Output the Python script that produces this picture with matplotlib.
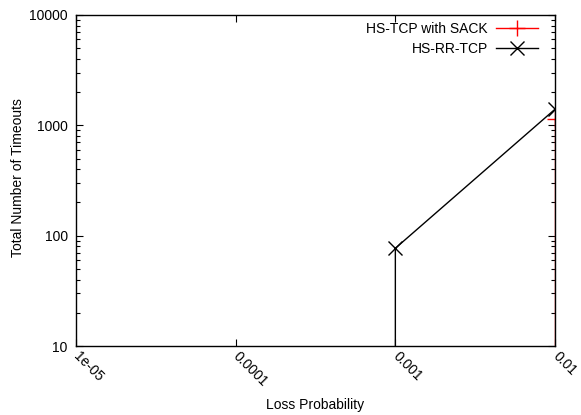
import matplotlib
matplotlib.use("Agg")
import matplotlib.pyplot as plt
from matplotlib.ticker import LogLocator, FixedLocator, NullLocator
import matplotlib.transforms as mtransforms

plt.rcParams['font.family'] = ['Liberation Sans', 'DejaVu Sans']

# Data (values below the axis floor are clipped, giving the vertical drop lines)
sack_x = [0.01, 0.01]
sack_y = [1, 1150]
rr_x = [0.001, 0.001, 0.01]
rr_y = [1, 77, 1400]

xticks = [1e-5, 1e-4, 1e-3, 1e-2]
xtick_labels = ["1e-05", "0.0001", "0.001", "0.01"]
yticks = [10, 100, 1000, 10000]
ytick_labels = ["10", "100", "1000", "10000"]

FS = 10

fig = plt.figure(figsize=(5.81, 4.15), dpi=100)
ax = fig.add_axes([0.1308, 0.166, 0.8245, 0.798])

ax.set_xscale('log')
ax.set_yscale('log')

ax.plot(sack_x, sack_y, color='#ff0000', lw=1.0, marker='+', markersize=11,
        markevery=[1], markeredgewidth=1.0, label='HS-TCP with SACK', clip_on=True)
ax.plot(rr_x, rr_y, color='black', lw=1.0, marker='x', markersize=10,
        markevery=[1, 2], markeredgewidth=1.0, label='HS-RR-TCP', clip_on=True)

ax.set_xlim(1e-5, 1e-2)
ax.set_ylim(10, 10000)

ax.xaxis.set_major_locator(FixedLocator(xticks))
ax.set_xticklabels(xtick_labels, rotation=-45, ha='left', va='center',
                   rotation_mode='anchor')
offset = mtransforms.ScaledTranslation(5 / 100, 0, fig.dpi_scale_trans)
for lbl in ax.get_xticklabels():
    lbl.set_transform(lbl.get_transform() + offset)
ax.xaxis.set_minor_locator(NullLocator())
ax.yaxis.set_major_locator(FixedLocator(yticks))
ax.set_yticklabels(ytick_labels)
ax.yaxis.set_minor_locator(LogLocator(base=10, subs=range(2, 10)))

ax.tick_params(axis='both', which='both', direction='in', top=True, right=True,
               labelsize=FS, width=0.8)
ax.tick_params(axis='both', which='major', length=5)
ax.tick_params(axis='y', which='major', pad=6)
ax.tick_params(axis='y', which='minor', length=3)
ax.tick_params(axis='x', which='major', pad=6)

for s in ax.spines.values():
    s.set_linewidth(1.0)

fig.text(315 / 581, 1 - 405 / 415, 'Loss Probability', fontsize=FS,
         ha='center', va='center')
fig.text(18 / 581, 1 - 178 / 415, 'Total Number of Timeouts', fontsize=FS,
         ha='center', va='center', rotation=90)

leg = ax.legend(loc='upper right', frameon=False, markerfirst=False, fontsize=FS,
                handlelength=3.0, bbox_to_anchor=(1 - 13 / 479, 1 - 3 / 331),
                borderaxespad=0.0, labelspacing=0.45, handletextpad=0.6,
                borderpad=0.3)

fig.savefig('out.png', dpi=100)
